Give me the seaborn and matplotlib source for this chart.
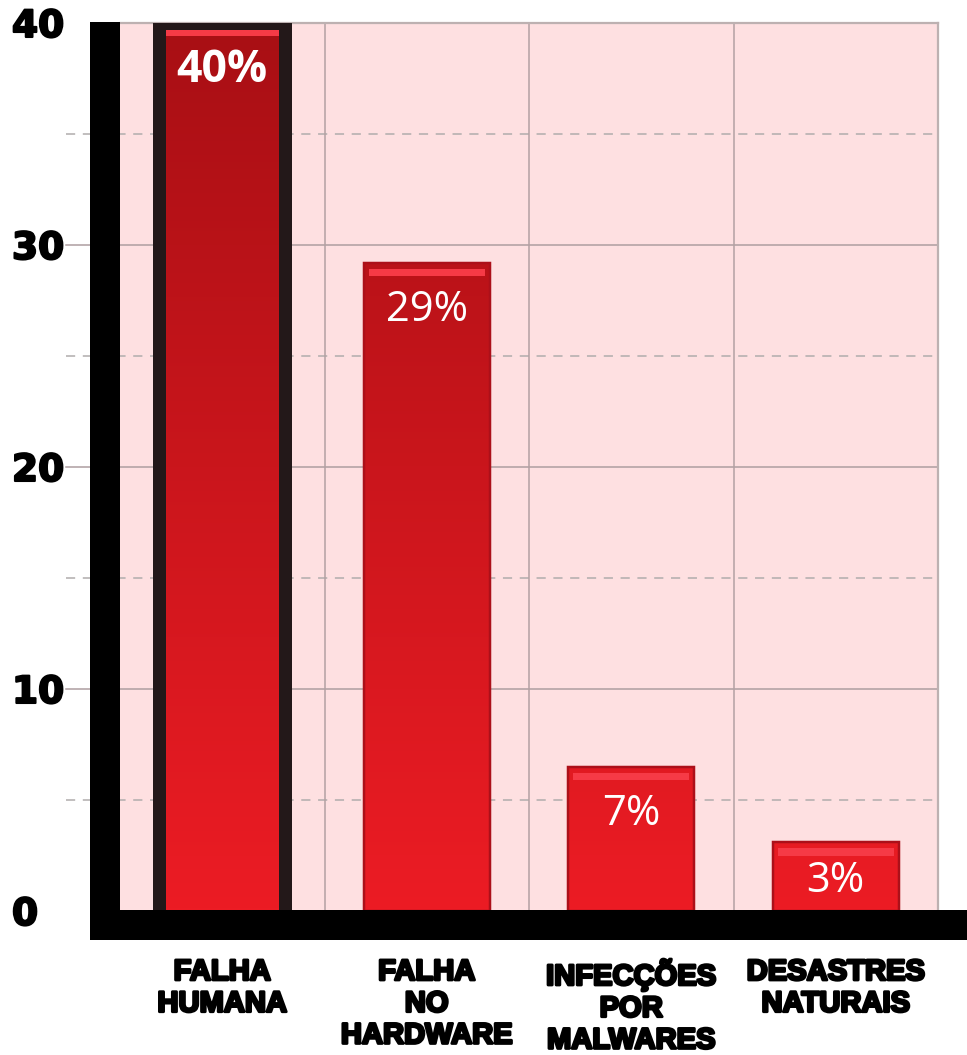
import numpy as np
import matplotlib
matplotlib.use('Agg')
import matplotlib.pyplot as plt
import matplotlib.patheffects as pe
from matplotlib.colors import LinearSegmentedColormap
from matplotlib.patches import Rectangle
import seaborn as sns

# data
categories = ['FALHA\nHUMANA', 'FALHA\nNO\nHARDWARE', 'INFECÇÕES\nPOR\nMALWARES', 'DESASTRES\nNATURAIS']
values = [40, 29.2, 6.5, 3.1]
value_labels = ['40%', '29%', '7%', '3%']
y_major = [0, 10, 20, 30, 40]
y_minor = [5, 15, 25, 35]

DPI = 100
W, H = 967, 1055
px = 72 / DPI  # points per pixel

fig = plt.figure(figsize=(W / DPI, H / DPI), dpi=DPI)
fig.patch.set_facecolor('white')
ax_l, ax_b, ax_w, ax_h = 120, 144, 818, 888
ax = fig.add_axes([ax_l / W, ax_b / H, ax_w / W, ax_h / H])
ax.set_facecolor('#FEE0E1')

sns.barplot(x=categories, y=values, width=0.615, color='#D0161E',
            saturation=1, errorbar=None, ax=ax, zorder=3)

ax.set_xlim(-0.5, len(categories) - 0.5)
ax.set_ylim(0, 40)

# vertical gradient (dark at top, bright at bottom) clipped to each bar
cmap = LinearSegmentedColormap.from_list('reds', ['#EC1C24', '#A80F14'])
grad = np.linspace(0, 1, 256).reshape(-1, 1)
for i, p in enumerate(ax.patches):
    x0, w, top = p.get_x(), p.get_width(), p.get_height()
    if i == 0:
        # push the thick frame's bottom edge under the black baseline
        p.set_y(-0.4)
        p.set_height(top + 0.4)
        p.set_edgecolor('#231819')
        p.set_linewidth(13 * px)
    else:
        p.set_edgecolor('#AC1019')
        p.set_linewidth(2.5 * px)
    im = ax.imshow(grad, cmap=cmap, extent=(-0.5, len(categories) - 0.5, 0, 40),
                   origin='lower', aspect='auto', zorder=2)
    im.set_clip_path(p)
    p.set_facecolor('none')
    inset = w * 0.04
    ax.add_patch(Rectangle((x0 + inset, top - 0.6), w - 2 * inset, 0.33,
                           color='#F63A46', lw=0, zorder=2.5))
    # value label inside the bar
    h_px = top / 40 * ax_h
    off = min(47, h_px * 0.57)
    ax.annotate(value_labels[i], (x0 + w / 2, top), xytext=(0, -off * px),
                textcoords='offset points', ha='center', va='center',
                color='white', fontsize=32 if i == 0 else 30,
                fontweight='bold' if i == 0 else 'normal',
                family=['Open Sans', 'DejaVu Sans'], zorder=4)

# gridlines, extending a little left of the axis
stub = -54 / ax_w
for y in y_major[1:-1]:
    ax.axhline(y, xmin=stub, color='#AE9EA0', lw=1.1, zorder=1, clip_on=False)
for y in y_minor:
    ax.axhline(y, xmin=stub, color='#B0ACAC', lw=1.1, ls=(0, (6, 5)),
               zorder=1, clip_on=False)
for x in np.arange(len(categories) - 1) + 0.5:
    ax.axvline(x, color='#B3A1A3', lw=1.1, zorder=1)

for s in ['top', 'right']:
    ax.spines[s].set_color('#BDB1B1')
    ax.spines[s].set_linewidth(1.6)
for s in ['left', 'bottom']:
    ax.spines[s].set_visible(False)

# thick black axis bars
ax.add_patch(Rectangle((-30 / ax_w, -29 / ax_h), 30 / ax_w, 1 + 30 / ax_h,
                       transform=ax.transAxes, color='black', lw=0,
                       clip_on=False, zorder=6))
ax.add_patch(Rectangle((-30 / ax_w, -29 / ax_h), (W - 90) / ax_w, 30 / ax_h,
                       transform=ax.transAxes, color='black', lw=0,
                       clip_on=False, zorder=6))

# y ticks
ax.set_yticks(y_major)
ax.set_yticklabels([str(v) for v in y_major], fontsize=27, fontweight='bold',
                   family='DejaVu Sans')
for lbl in ax.get_yticklabels():
    lbl.set_ha('left')
    lbl.set_path_effects([pe.withStroke(linewidth=1.5, foreground='black')])
ax.tick_params(axis='y', length=0, pad=108 * px)

# x ticks
ax.set_xticks(range(len(categories)))
ax.set_xticklabels(categories, fontsize=21, fontweight='bold',
                   family='Liberation Sans', linespacing=1.17)
for lbl in ax.get_xticklabels():
    lbl.set_path_effects([pe.withStroke(linewidth=2.0, foreground='black')])
ax.tick_params(axis='x', length=0, pad=47 * px)
ax.set_xlabel('')
ax.set_ylabel('')

fig.savefig('out.png', dpi=DPI)
